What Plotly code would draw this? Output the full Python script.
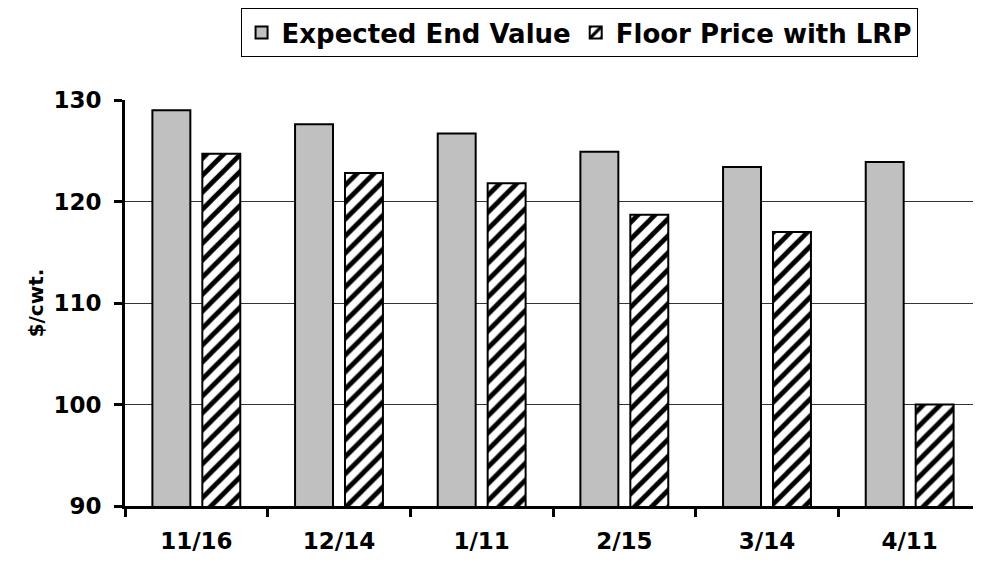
import plotly.graph_objects as go

categories = ["11/16", "12/14", "1/11", "2/15", "3/14", "4/11"]
expected_end_value = [129.0, 127.6, 126.7, 124.9, 123.4, 123.9]
floor_price_lrp = [124.7, 122.8, 121.8, 118.7, 117.0, 100.0]
y_ticks = [90, 100, 110, 120, 130]

FONT = "DejaVu Sans"

fig = go.Figure()
fig.add_trace(go.Bar(
    x=categories, y=expected_end_value, name="Expected End Value",
    marker=dict(color="#C0C0C0", line=dict(color="black", width=2)),
))
fig.add_trace(go.Bar(
    x=categories, y=floor_price_lrp, name="Floor Price with LRP",
    marker=dict(color="white", line=dict(color="black", width=2),
                pattern=dict(shape="/", fgcolor="black", bgcolor="white",
                             fgopacity=1, size=12, solidity=0.4,
                             fillmode="overlay")),
))

# page body has an 8px margin, so the figure is offset by 8px
fig.update_layout(
    width=973, height=556,
    margin=dict(l=117, r=0, t=91, b=58, pad=0),
    plot_bgcolor="white", paper_bgcolor="white",
    barmode="group", bargap=0.30, bargroupgap=0.24,
    font=dict(family=FONT, color="black", size=22),
    showlegend=True,
    legend=dict(
        orientation="h", x=0.135, xanchor="left", y=1.226, yanchor="top",
        bordercolor="black", borderwidth=1, bgcolor="white",
        font=dict(family=FONT, size=26, color="black", weight="bold"),
        itemwidth=30, tracegroupgap=0,
    ),
    xaxis=dict(
        showline=True, linecolor="black", linewidth=3,
        ticks="outside", ticklen=8, tickwidth=3, tickcolor="black",
        tickson="boundaries", showgrid=False, zeroline=False,
        tickfont=dict(family=FONT, size=23, weight="bold"),
        ticklabelstandoff=12,
    ),
    yaxis=dict(
        range=[90, 130], tickvals=y_ticks,
        showline=True, linecolor="black", linewidth=3,
        ticks="outside", ticklen=8, tickwidth=3, tickcolor="black",
        showgrid=True, gridcolor="#333333", gridwidth=1, zeroline=False,
        tickfont=dict(family=FONT, size=23, weight="bold"),
        ticklabelstandoff=8,
        title=dict(text="$/cwt.", font=dict(family=FONT, size=20, weight="bold"), standoff=5),
    ),
)

fig.write_html("out.html")
